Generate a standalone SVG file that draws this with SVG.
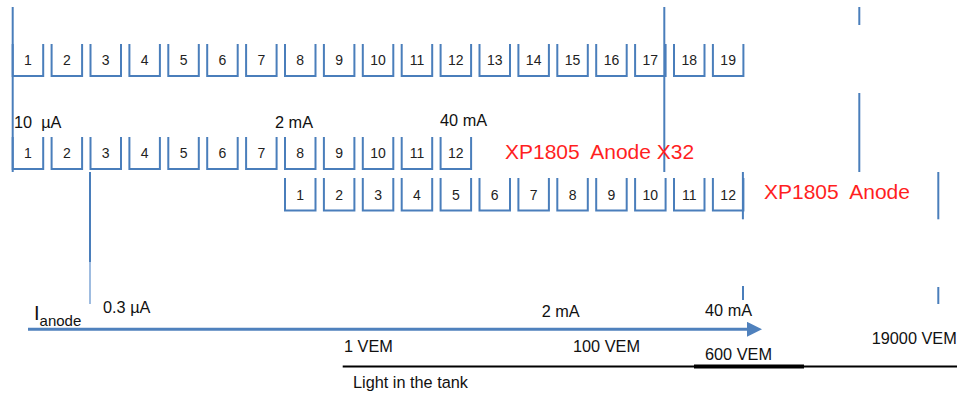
<svg xmlns="http://www.w3.org/2000/svg" width="957" height="396" viewBox="0 0 957 396">
<style>
.box{fill:none;stroke:#4A7EBB;stroke-width:2}
.ln{fill:none;stroke:#4A7EBB;stroke-width:2}
.num{font-family:"Liberation Sans",Arial,sans-serif;font-size:14px;fill:#222;text-anchor:middle}
.lbl{font-family:"Liberation Sans",Arial,sans-serif;font-size:16.3px;fill:#111;white-space:pre}
.red{font-family:"Liberation Sans",Arial,sans-serif;font-size:21px;fill:#FF1F1F;white-space:pre}
</style>
<defs>
<marker id="ah" markerWidth="5" markerHeight="5" refX="0" refY="2.5" orient="auto" markerUnits="strokeWidth"><path d="M0,0 L5,2.5 L0,5 Z" fill="#4F81BD"/></marker>
</defs>
<rect width="957" height="396" fill="#fff"/>
<!-- Top row: 19 boxes -->
<g id="top-row">
<g id="t1"><path class="box" d="M12.7,44V76H43.2V44"/><text class="num" x="27.95" y="65">1</text></g>
<g id="t2"><path class="box" d="M51.6,44V76H82.1V44"/><text class="num" x="66.85" y="65">2</text></g>
<g id="t3"><path class="box" d="M90.5,44V76H121V44"/><text class="num" x="105.75" y="65">3</text></g>
<g id="t4"><path class="box" d="M129.4,44V76H159.9V44"/><text class="num" x="144.65" y="65">4</text></g>
<g id="t5"><path class="box" d="M168.3,44V76H198.8V44"/><text class="num" x="183.55" y="65">5</text></g>
<g id="t6"><path class="box" d="M207.2,44V76H237.7V44"/><text class="num" x="222.45" y="65">6</text></g>
<g id="t7"><path class="box" d="M246.1,44V76H276.6V44"/><text class="num" x="261.35" y="65">7</text></g>
<g id="t8"><path class="box" d="M285,44V76H315.5V44"/><text class="num" x="300.25" y="65">8</text></g>
<g id="t9"><path class="box" d="M323.9,44V76H354.4V44"/><text class="num" x="339.15" y="65">9</text></g>
<g id="t10"><path class="box" d="M362.8,44V76H393.3V44"/><text class="num" x="378.05" y="65">10</text></g>
<g id="t11"><path class="box" d="M401.7,44V76H432.2V44"/><text class="num" x="416.95" y="65">11</text></g>
<g id="t12"><path class="box" d="M440.6,44V76H471.1V44"/><text class="num" x="455.85" y="65">12</text></g>
<g id="t13"><path class="box" d="M479.5,44V76H510V44"/><text class="num" x="494.75" y="65">13</text></g>
<g id="t14"><path class="box" d="M518.4,44V76H548.9V44"/><text class="num" x="533.65" y="65">14</text></g>
<g id="t15"><path class="box" d="M557.3,44V76H587.8V44"/><text class="num" x="572.55" y="65">15</text></g>
<g id="t16"><path class="box" d="M596.2,44V76H626.7V44"/><text class="num" x="611.45" y="65">16</text></g>
<g id="t17"><path class="box" d="M635.1,44V76H665.6V44"/><text class="num" x="650.35" y="65">17</text></g>
<g id="t18"><path class="box" d="M674,44V76H704.5V44"/><text class="num" x="689.25" y="65">18</text></g>
<g id="t19"><path class="box" d="M712.9,44V76H743.4V44"/><text class="num" x="728.15" y="65">19</text></g>
</g>
<!-- Middle row: 12 boxes -->
<g id="mid-row">
<g id="m1"><path class="box" d="M12.7,137V169H43.2V137"/><text class="num" x="27.95" y="158.3">1</text></g>
<g id="m2"><path class="box" d="M51.6,137V169H82.1V137"/><text class="num" x="66.85" y="158.3">2</text></g>
<g id="m3"><path class="box" d="M90.5,137V169H121V137"/><text class="num" x="105.75" y="158.3">3</text></g>
<g id="m4"><path class="box" d="M129.4,137V169H159.9V137"/><text class="num" x="144.65" y="158.3">4</text></g>
<g id="m5"><path class="box" d="M168.3,137V169H198.8V137"/><text class="num" x="183.55" y="158.3">5</text></g>
<g id="m6"><path class="box" d="M207.2,137V169H237.7V137"/><text class="num" x="222.45" y="158.3">6</text></g>
<g id="m7"><path class="box" d="M246.1,137V169H276.6V137"/><text class="num" x="261.35" y="158.3">7</text></g>
<g id="m8"><path class="box" d="M285,137V169H315.5V137"/><text class="num" x="300.25" y="158.3">8</text></g>
<g id="m9"><path class="box" d="M323.9,137V169H354.4V137"/><text class="num" x="339.15" y="158.3">9</text></g>
<g id="m10"><path class="box" d="M362.8,137V169H393.3V137"/><text class="num" x="378.05" y="158.3">10</text></g>
<g id="m11"><path class="box" d="M401.7,137V169H432.2V137"/><text class="num" x="416.95" y="158.3">11</text></g>
<g id="m12"><path class="box" d="M440.6,137V169H471.1V137"/><text class="num" x="455.85" y="158.3">12</text></g>
</g>
<!-- Bottom row: 12 boxes -->
<g id="bot-row">
<g id="b1"><path class="box" d="M285,178V210.5H315.5V178"/><text class="num" x="300.25" y="200">1</text></g>
<g id="b2"><path class="box" d="M323.9,178V210.5H354.4V178"/><text class="num" x="339.15" y="200">2</text></g>
<g id="b3"><path class="box" d="M362.8,178V210.5H393.3V178"/><text class="num" x="378.05" y="200">3</text></g>
<g id="b4"><path class="box" d="M401.7,178V210.5H432.2V178"/><text class="num" x="416.95" y="200">4</text></g>
<g id="b5"><path class="box" d="M440.6,178V210.5H471.1V178"/><text class="num" x="455.85" y="200">5</text></g>
<g id="b6"><path class="box" d="M479.5,178V210.5H510V178"/><text class="num" x="494.75" y="200">6</text></g>
<g id="b7"><path class="box" d="M518.4,178V210.5H548.9V178"/><text class="num" x="533.65" y="200">7</text></g>
<g id="b8"><path class="box" d="M557.3,178V210.5H587.8V178"/><text class="num" x="572.55" y="200">8</text></g>
<g id="b9"><path class="box" d="M596.2,178V210.5H626.7V178"/><text class="num" x="611.45" y="200">9</text></g>
<g id="b10"><path class="box" d="M635.1,178V210.5H665.6V178"/><text class="num" x="650.35" y="200">10</text></g>
<g id="b11"><path class="box" d="M674,178V210.5H704.5V178"/><text class="num" x="689.25" y="200">11</text></g>
<g id="b12"><path class="box" d="M712.9,178V210.5H743.4V178"/><text class="num" x="728.15" y="200">12</text></g>
</g>
<!-- Connectors / guide lines -->
<g id="connectors">
<path class="ln" d="M12.7,7V172"/>
<path class="ln" d="M664.3,7V172"/>
<path class="ln" d="M859.3,7V25"/>
<path class="ln" d="M859.3,93V172"/>
<path class="ln" d="M742.9,172V219.3"/>
<path class="ln" d="M938.3,172V219.3"/>
<path class="ln" d="M90,172V262"/>
<path d="M90,262V304" fill="none" stroke="#7FA6D6" stroke-width="1.5"/>
<path class="ln" d="M743,286V300"/>
<path class="ln" d="M938.3,287V304"/>
<path d="M28,329.3H747" fill="none" stroke="#4F81BD" stroke-width="3" marker-end="url(#ah)"/>
<path d="M342.7,366.5H957" fill="none" stroke="#000" stroke-width="2"/>
<path d="M694,366.5H804" fill="none" stroke="#000" stroke-width="4"/>
</g>
<!-- Labels -->
<g id="labels">
<text class="lbl" x="14" y="128.3" xml:space="preserve">10  µA</text>
<text class="lbl" x="275" y="128.3">2 mA</text>
<text class="lbl" x="440" y="126">40 mA</text>
<text class="red" x="505" y="159.3" xml:space="preserve">XP1805  Anode X32</text>
<text class="red" x="764" y="199" xml:space="preserve">XP1805  Anode</text>
<text x="34" y="320" font-family="Liberation Sans,Arial,sans-serif" font-size="20" fill="#111">I<tspan font-size="15" dy="6">anode</tspan></text>
<text class="lbl" x="103" y="313.3">0.3 µA</text>
<text class="lbl" x="541.7" y="316.7">2 mA</text>
<text class="lbl" x="705" y="316">40 mA</text>
<text class="lbl" x="344" y="351.7">1 VEM</text>
<text class="lbl" x="573" y="351.7">100 VEM</text>
<text class="lbl" x="705" y="360">600 VEM</text>
<text class="lbl" x="871.7" y="344">19000 VEM</text>
<text class="lbl" x="353" y="388">Light in the tank</text>
</g>
</svg>
